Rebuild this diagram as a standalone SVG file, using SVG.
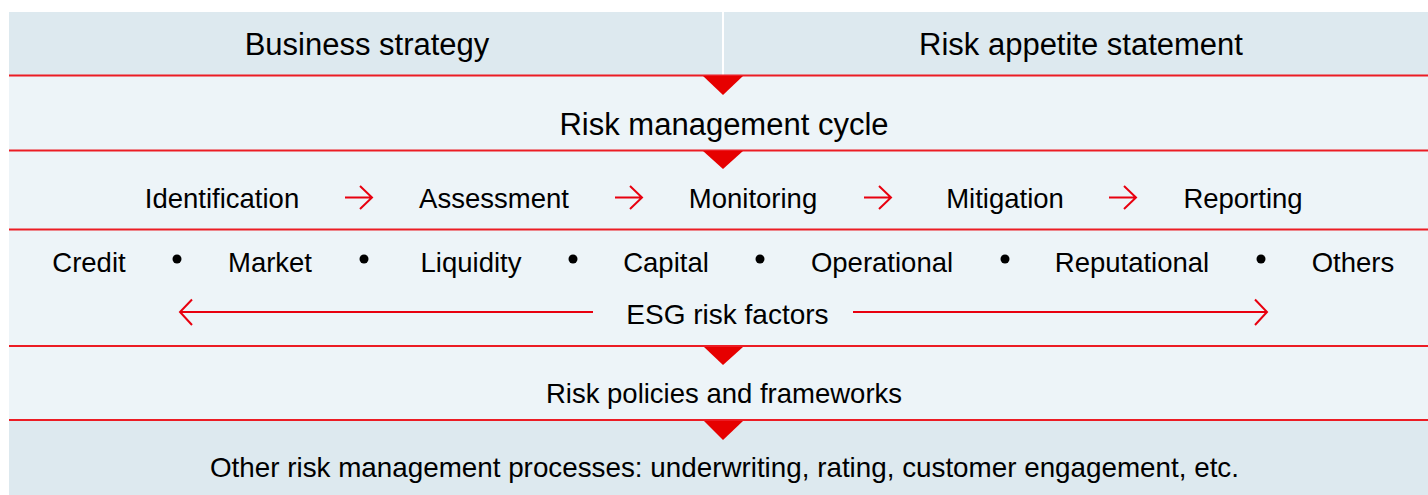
<svg xmlns="http://www.w3.org/2000/svg" width="1428" height="495" viewBox="0 0 1428 495">
<style>
text{font-family:"Liberation Sans",Arial,sans-serif;fill:#000;text-anchor:middle}
.big{font-size:31px}
.mid{font-size:27.5px}
.dark{fill:#dde9ef}
.light{fill:#edf4f8}
.rule{stroke:#ec1c24;stroke-width:2;fill:none}
.tri{fill:#e60000}
.arr{stroke:#e8000f;stroke-width:2;fill:none}
.dot{fill:#000}
</style>
<rect x="0" y="0" width="1428" height="495" fill="#fff"/>
<g id="bands">
<rect class="dark" x="9" y="12" width="1419" height="64"/>
<rect class="light" x="9" y="76" width="1419" height="344"/>
<rect class="dark" x="9" y="420" width="1419" height="75"/>
<rect x="722" y="12" width="2" height="64" fill="#fff"/>
</g>
<g id="connectors">
<line class="rule" x1="9" y1="75.5" x2="1428" y2="75.5"/>
<line class="rule" x1="9" y1="150.5" x2="1428" y2="150.5"/>
<line class="rule" x1="9" y1="229.5" x2="1428" y2="229.5"/>
<line class="rule" x1="9" y1="346" x2="1428" y2="346"/>
<line class="rule" x1="9" y1="420" x2="1428" y2="420"/>
<polygon class="tri" points="703,76 743,76 723,95"/>
<polygon class="tri" points="703,151 743,151 723,169"/>
<polygon class="tri" points="704,347 743,347 723,365"/>
<polygon class="tri" points="704,421 743,421 723,440"/>
<path class="arr" d="M345,197.5H372M360,186L372,197.5L360,209"/>
<path class="arr" d="M615,197.5H642M630,186L642,197.5L630,209"/>
<path class="arr" d="M864,197.5H891M879,186L891,197.5L879,209"/>
<path class="arr" d="M1109,197.5H1136M1124,186L1136,197.5L1124,209"/>
<path class="arr" d="M593,312H180M192,299.5L180,312L192,325"/>
<path class="arr" d="M853,312H1267M1255,299.5L1267,312L1255,325"/>
</g>
<g id="business-strategy"><text class="big" x="367" y="55">Business strategy</text></g>
<g id="risk-appetite"><text class="big" x="1081" y="55">Risk appetite statement</text></g>
<g id="cycle"><text class="big" x="724" y="135">Risk management cycle</text></g>
<g id="steps">
<text class="mid" x="222" y="208">Identification</text>
<text class="mid" x="494" y="208">Assessment</text>
<text class="mid" x="753" y="208">Monitoring</text>
<text class="mid" x="1005" y="208">Mitigation</text>
<text class="mid" x="1243" y="208">Reporting</text>
</g>
<g id="risk-types">
<text class="mid" x="89" y="272">Credit</text>
<text class="mid" x="270" y="272">Market</text>
<text class="mid" x="471" y="272">Liquidity</text>
<text class="mid" x="666" y="272">Capital</text>
<text class="mid" x="882" y="272">Operational</text>
<text class="mid" x="1132" y="272">Reputational</text>
<text class="mid" x="1353" y="272">Others</text>
<circle class="dot" cx="177" cy="259" r="4.5"/>
<circle class="dot" cx="364" cy="259" r="4.5"/>
<circle class="dot" cx="573" cy="259" r="4.5"/>
<circle class="dot" cx="760" cy="259" r="4.5"/>
<circle class="dot" cx="1005" cy="259" r="4.5"/>
<circle class="dot" cx="1261" cy="259" r="4.5"/>
</g>
<g id="esg"><text class="mid" x="727.5" y="324" style="font-size:28px">ESG risk factors</text></g>
<g id="policies"><text class="mid" x="724" y="403">Risk policies and frameworks</text></g>
<g id="other"><text class="mid" x="724.5" y="477" style="font-size:27.8px">Other risk management processes: underwriting, rating, customer engagement, etc.</text></g>
</svg>
